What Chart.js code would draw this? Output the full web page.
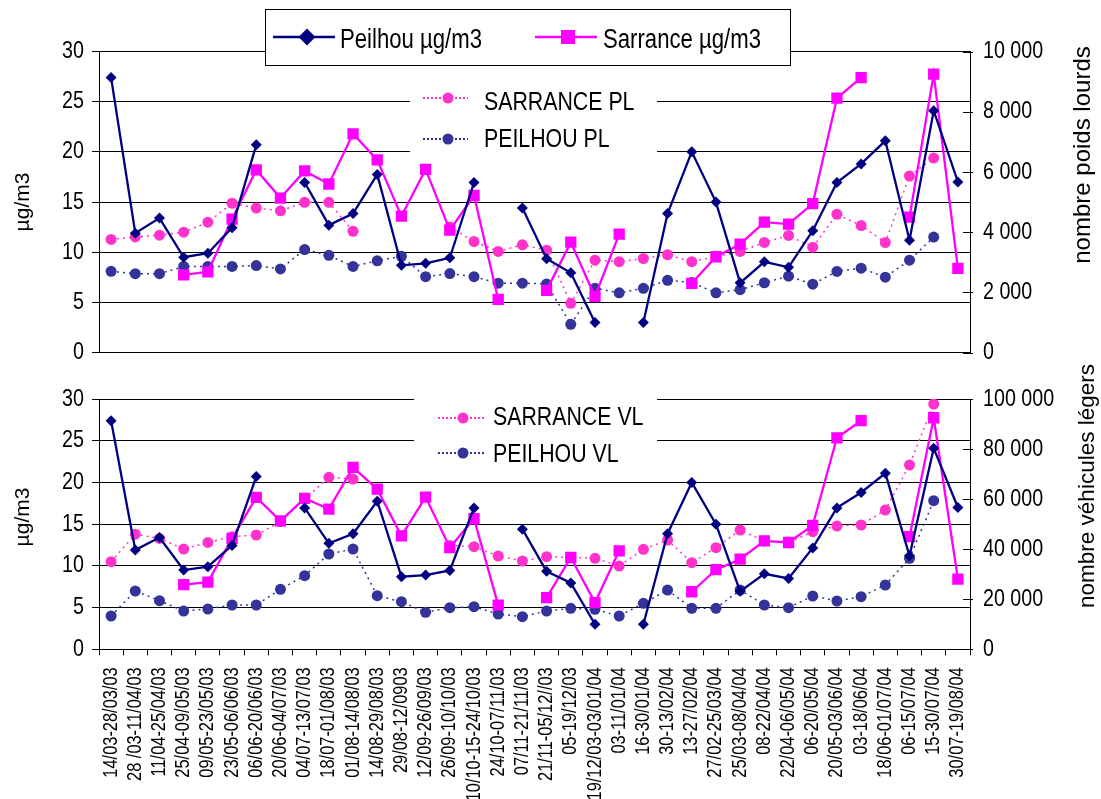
<!DOCTYPE html>
<html><head><meta charset="utf-8">
<script src="https://cdn.jsdelivr.net/npm/chart.js@4.4.1/dist/chart.umd.min.js"></script>
<style>
html,body{margin:0;padding:0;background:#fff;width:1101px;height:799px;overflow:hidden;}
#w1{position:absolute;left:0;top:0;width:1101px;height:380px;}
#w2{position:absolute;left:0;top:355px;width:1101px;height:444px;}
</style></head><body>
<div id="w1"><canvas id="c1"></canvas></div>
<div id="w2"><canvas id="c2"></canvas></div>
<script>
const categories = ['14/03-28/03/03','28 /03-11/04/03','11/04-25/04/03','25/04-09/05/03','09/05-23/05/03','23/05-06/06/03','06/06-20/06/03','20/06-04/07/03','04/07-13/07/03','18/07-01/08/03','01/08-14/08/03','14/08-29/08/03','29/08-12/0903','12/09-26/09/03','26/09-10/10/03','10/10-15-24/10/03','24/10-07/11/03','07/11-21/11/03','21/11-05/12//03','05-19/12/03','19/12/03-03/01/04','03-11/01/04','16-30/01/04','30-13/02/04','13-27/02/04','27/02-25/03/04','25/03-08/04/04','08-22/04/04','22/04-06/05/04','06-20/05/04','20/05-03/06/04','03-18/06/04','18/06-01/07/04','06-15/07/04','15-30/07/04','30/07-19/08/04'];

const peilhouUg = [27.4, 11.9, 13.4, 9.5, 9.9, 12.45, 20.7, null, 16.95, 12.7, 13.85, 17.75, 8.7, 8.9, 9.45, 16.95, null, 14.4, 9.35, 7.95, 3.0, null, 3.0, 13.85, 20.0, 15.0, 6.95, 9.05, 8.5, 12.15, 16.95, 18.8, 21.1, 11.2, 24.1, 17.0];
const sarranceUg = [null, null, null, 7.75, 8.05, 13.3, 18.2, 15.4, 18.1, 16.8, 21.8, 19.2, 13.6, 18.25, 12.2, 15.65, 5.3, null, 6.2, 11.0, 5.6, 11.8, null, null, 6.9, 9.55, 10.8, 13.0, 12.8, 14.85, 25.35, 27.4, null, 13.5, 27.75, 8.4];
const sarrancePL = [3760, 3840, 3900, 4000, 4330, 4960, 4800, 4710, 4990, 4990, 4030, null, null, null, 4170, 3690, 3360, 3580, 3400, 1635, 3070, 3020, 3125, 3250, 3020, 3180, 3360, 3658, 3890, 3500, 4595, 4220, 3657, 5865, 6460, null];
const peilhouPL = [2700, 2620, 2620, 2860, 2860, 2860, 2890, 2780, 3420, 3230, 2860, 3050, 3200, 2520, 2625, 2520, 2305, 2305, 2280, 940, 2135, 1985, 2135, 2400, 2325, 1985, 2090, 2320, 2537, 2271, 2697, 2804, 2505, 3070, 3838, null];
const sarranceVL = [35000, 46000, 44300, 40070, 42700, 45000, 45660, 51000, 60000, 68700, 68040, null, null, null, 41500, 41000, 37280, 35280, 37000, 36700, 36350, 33280, 39950, 43670, 34600, 40600, 47660, 43300, 42600, 47000, 49260, 49660, 55650, 73630, 98000, null];
const peilhouVL = [13300, 23290, 19420, 15300, 16100, 17700, 17700, 23970, 29400, 38070, 40070, 21410, 19020, 14780, 16620, 17020, 14100, 13020, 15300, 16380, 15980, 13300, 18380, 23690, 16380, 16380, 23690, 17700, 16620, 21300, 19300, 21020, 25690, 36350, 59370, null];

const leftTicks = {min: 0, max: 30, step: 5};
const rightTicksPL = {min: 0, max: 10000, step: 2000};
const rightTicksVL = {min: 0, max: 100000, step: 20000};

const NAVY = '#000080', MAGENTA = '#FF00FF', PINK = '#FF33CC', INDIGO = '#333399';
const FONT = "'Liberation Sans', Arial, sans-serif";
const CONDENSE = 0.82;

function fmt(v){ return String(v).replace(/\B(?=(\d{3})+(?!\d))/g, ' '); }

function patchCtx(ctx){
  if (ctx.__patched) return;
  ctx.__patched = true;
  const orig = ctx.fillText;
  ctx.__k = CONDENSE;
  ctx.fillText = function(t, x, y, mw){
    if (this.__k === 1) return orig.call(this, t, x, y, mw);
    this.save();
    this.translate(x, y);
    this.scale(this.__k, 1);
    orig.call(this, t, 0, 0, mw);
    this.restore();
  };
}

function drawMarker(ctx, style, x, y, r, color){
  ctx.fillStyle = color;
  ctx.beginPath();
  if (style === 'rectRot'){ ctx.moveTo(x, y-r); ctx.lineTo(x+r, y); ctx.lineTo(x, y+r); ctx.lineTo(x-r, y); ctx.closePath(); }
  else if (style === 'rect'){ ctx.rect(x-r, y-r, 2*r, 2*r); }
  else { ctx.arc(x, y, r, 0, Math.PI*2); }
  ctx.fill();
}

const extrasPlugin = {
  id: 'extras',
  beforeInit(chart){ patchCtx(chart.ctx); },
  beforeDraw(chart){ patchCtx(chart.ctx); },
  afterDatasetsDraw(chart, args, opts){
    const ctx = chart.ctx;
    (opts.boxes || []).forEach(b => {
      ctx.save();
      ctx.fillStyle = '#fff';
      ctx.fillRect(b.x, b.y, b.w, b.h);
      if (b.border){ ctx.strokeStyle = '#000'; ctx.lineWidth = 1; ctx.strokeRect(b.x+0.5, b.y+0.5, b.w, b.h); }
      b.items.forEach(it => {
        const ds = chart.data.datasets[it.ds];
        ctx.strokeStyle = ds.borderColor; ctx.lineWidth = it.lw;
        ctx.setLineDash(it.dash || []);
        ctx.beginPath(); ctx.moveTo(it.x0, it.y); ctx.lineTo(it.x1, it.y); ctx.stroke();
        ctx.setLineDash([]);
        drawMarker(ctx, ds.pointStyle, it.mx, it.y, it.r, ds.backgroundColor);
        ctx.fillStyle = '#000';
        ctx.font = it.font;
        ctx.textBaseline = 'alphabetic'; ctx.textAlign = 'left';
        ctx.fillText(ds.label, it.tx, it.ty);
      });
      ctx.restore();
    });
  },
  afterDraw(chart, args, opts){
    const ctx = chart.ctx;
    const area = chart.chartArea;
    const s = chart.scales.y1;
    ctx.save();
    ctx.strokeStyle = '#000'; ctx.lineWidth = 1;
    s.ticks.forEach(t => {
      const y = Math.round(s.getPixelForValue(t.value)) + 0.5;
      ctx.beginPath(); ctx.moveTo(area.right - 7, y); ctx.lineTo(area.right + 3, y); ctx.stroke();
    });
    ctx.__k = 1;
    (opts.titles || []).forEach(t => {
      ctx.save();
      ctx.translate(t.x, t.y); ctx.rotate(-Math.PI/2);
      ctx.font = t.font; ctx.fillStyle = '#000';
      ctx.textAlign = 'center'; ctx.textBaseline = 'middle';
      ctx.fillText(t.text, 0, 0);
      ctx.restore();
    });
    ctx.__k = CONDENSE;
    ctx.restore();
  }
};

function datasets(labels2, data2a, data2b){
  return [
    {label: 'Peilhou µg/m3', data: peilhouUg, yAxisID: 'y', borderColor: NAVY, backgroundColor: NAVY, borderWidth: 2.3, pointStyle: 'rectRot', pointRadius: 5.5, pointHoverRadius: 5.5, pointBorderWidth: 0, spanGaps: false, order: 0},
    {label: 'Sarrance µg/m3', data: sarranceUg, yAxisID: 'y', borderColor: MAGENTA, backgroundColor: MAGENTA, borderWidth: 2.3, pointStyle: 'rect', pointRadius: 8, pointHoverRadius: 8, pointBorderWidth: 0, spanGaps: false, order: 1},
    {label: labels2[0], data: data2a, yAxisID: 'y1', borderColor: PINK, backgroundColor: PINK, borderWidth: 1.5, borderDash: [2, 4], pointStyle: 'circle', pointRadius: 5.5, pointHoverRadius: 5.5, pointBorderWidth: 0, spanGaps: false, order: 2},
    {label: labels2[1], data: data2b, yAxisID: 'y1', borderColor: INDIGO, backgroundColor: INDIGO, borderWidth: 1.5, borderDash: [2, 4], pointStyle: 'circle', pointRadius: 5.5, pointHoverRadius: 5.5, pointBorderWidth: 0, spanGaps: false, order: 3}
  ];
}

function yScales(rt){
  return {
    y: {position: 'left', min: leftTicks.min, max: leftTicks.max,
        ticks: {stepSize: leftTicks.step, font: {family: FONT, size: 24}, color: '#000', padding: 8},
        grid: {color: '#000', lineWidth: 1, tickLength: 7, drawTicks: true},
        border: {color: '#000', width: 1},
        afterFit: s => { s.width = 99; }},
    y1: {position: 'right', min: rt.min, max: rt.max,
        ticks: {stepSize: rt.step, font: {family: FONT, size: 24}, color: '#000', padding: 13, callback: v => fmt(v)},
        grid: {drawOnChartArea: false, drawTicks: false},
        border: {color: '#000', width: 1},
        afterFit: s => { s.width = 131; }}
  };
}

Chart.defaults.font.family = FONT;

new Chart(document.getElementById('c1'), {
  type: 'line',
  data: {labels: categories, datasets: datasets(['SARRANCE PL', 'PEILHOU PL'], sarrancePL, peilhouPL)},
  plugins: [extrasPlugin],
  options: {
    responsive: true, maintainAspectRatio: false, animation: false, devicePixelRatio: 1,
    layout: {padding: {top: 51.5, bottom: 15.5, left: 0, right: 0}},
    plugins: {legend: {display: false}, tooltip: {enabled: false},
      extras: {
        boxes: [
          {x: 265, y: 9, w: 525, h: 56, border: true, items: [
            {ds: 0, x0: 273, x1: 335, y: 37, lw: 2.5, mx: 307, r: 8.5, tx: 340, ty: 48, font: '27px ' + FONT},
            {ds: 1, x0: 535, x1: 597, y: 37, lw: 2.5, mx: 568, r: 7, tx: 603, ty: 48, font: '27px ' + FONT}
          ]},
          {x: 410, y: 78, w: 247, h: 74, border: false, items: [
            {ds: 2, x0: 423, x1: 468, y: 98, lw: 2, dash: [2, 2], mx: 448, r: 5.5, tx: 484, ty: 110, font: '26px ' + FONT},
            {ds: 3, x0: 423, x1: 468, y: 139, lw: 2, dash: [2, 2], mx: 448, r: 5.5, tx: 484, ty: 147, font: '26px ' + FONT}
          ]}
        ],
        titles: [
          {text: 'µg/m3', x: 23, y: 202, font: '21px ' + FONT},
          {text: 'nombre poids lourds', x: 1083, y: 155, font: '24px ' + FONT}
        ]
      }
    },
    scales: Object.assign({
      x: {type: 'category', offset: true, grid: {display: false}, ticks: {display: false},
          border: {display: true, color: '#000', width: 1}, afterFit: s => { s.height = 0; }}
    }, yScales(rightTicksPL))
  }
});

new Chart(document.getElementById('c2'), {
  type: 'line',
  data: {labels: categories, datasets: datasets(['SARRANCE VL', 'PEILHOU VL'], sarranceVL, peilhouVL)},
  plugins: [extrasPlugin],
  options: {
    responsive: true, maintainAspectRatio: false, animation: false, devicePixelRatio: 1,
    layout: {padding: {top: 44, bottom: 0, left: 0, right: 0}},
    plugins: {legend: {display: false}, tooltip: {enabled: false},
      extras: {
        boxes: [
          {x: 414, y: 37, w: 243, h: 80, border: false, items: [
            {ds: 2, x0: 438, x1: 484, y: 63, lw: 2, dash: [2, 2], mx: 463, r: 5.5, tx: 493, ty: 70, font: '26px ' + FONT},
            {ds: 3, x0: 438, x1: 484, y: 98, lw: 2, dash: [2, 2], mx: 463, r: 5.5, tx: 493, ty: 107, font: '26px ' + FONT}
          ]}
        ],
        titles: [
          {text: 'µg/m3', x: 23, y: 162, font: '21px ' + FONT},
          {text: 'nombre véhicules légers', x: 1088, y: 131, font: '22.5px ' + FONT}
        ]
      }
    },
    scales: Object.assign({
      x: {type: 'category', offset: true,
          grid: {display: true, drawOnChartArea: false, drawTicks: true, tickLength: 6, color: '#000', offset: true},
          ticks: {autoSkip: false, maxRotation: 90, minRotation: 90, font: {family: FONT, size: 20}, color: '#000', padding: 12},
          border: {display: true, color: '#000', width: 1},
          afterFit: s => { s.height = 149.7; }}
    }, yScales(rightTicksVL))
  }
});
</script>
</body></html>
